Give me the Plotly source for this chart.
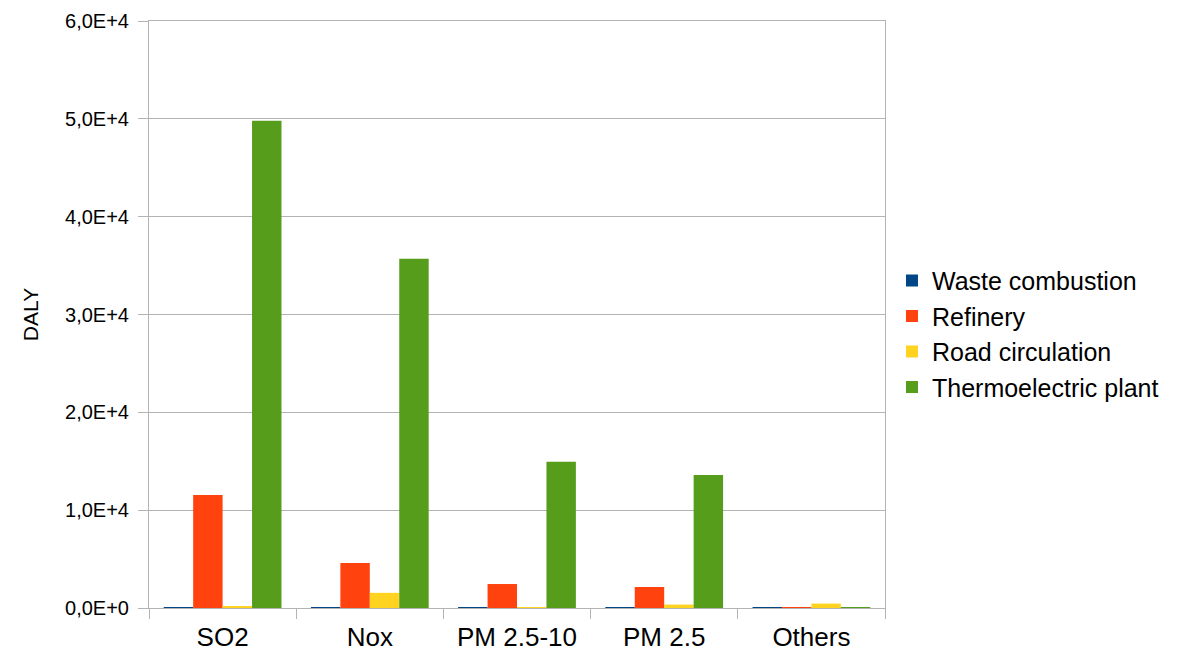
import plotly.graph_objects as go

categories = ["SO2", "Nox", "PM 2.5-10", "PM 2.5", "Others"]
waste_combustion = [60, 50, 50, 50, 50]
refinery = [11550, 4600, 2450, 2150, 40]
road_circulation = [150, 1550, 20, 350, 450]
thermoelectric_plant = [49800, 35700, 14950, 13600, 100]

series_names = ["Waste combustion", "Refinery", "Road circulation", "Thermoelectric plant"]
series_values = [waste_combustion, refinery, road_circulation, thermoelectric_plant]
series_colors = ["#004586", "#ff420e", "#ffd320", "#579d1c"]

y_tick_vals = [0, 10000, 20000, 30000, 40000, 50000, 60000]
y_tick_text = ["0,0E+0", "1,0E+4", "2,0E+4", "3,0E+4", "4,0E+4", "5,0E+4", "6,0E+4"]

fig = go.Figure()
for name, vals, col in zip(series_names, series_values, series_colors):
    fig.add_trace(go.Bar(x=categories, y=vals, name=name, marker_color=col,
                         marker_line_width=0))

font_family = "Liberation Sans, Arial, sans-serif"
fig.update_layout(
    width=1184, height=655,
    margin=dict(l=141, r=307, t=13, b=55, autoexpand=False),
    plot_bgcolor="white", paper_bgcolor="white",
    barmode="group", bargap=0.2, bargroupgap=0,
    font=dict(family=font_family, color="black"),
    showlegend=True,
    legend=dict(x=1.0095, y=0.467, xanchor="left", yanchor="middle",
                font=dict(size=25, family=font_family), tracegroupgap=0,
                itemwidth=30, bgcolor="rgba(0,0,0,0)"),
)
fig.update_xaxes(
    automargin=False,
    showline=True, linecolor="#b3b3b3", linewidth=1, mirror=True,
    ticks="outside", tickson="boundaries", ticklen=10, tickcolor="#b3b3b3",
    tickfont=dict(size=26, family=font_family), showgrid=False,
    ticklabelstandoff=6,
)
fig.update_yaxes(
    automargin=False,
    range=[0, 60000], tickvals=y_tick_vals, ticktext=y_tick_text,
    showline=True, linecolor="#b3b3b3", linewidth=1, mirror=True,
    ticks="outside", ticklen=10, tickcolor="#b3b3b3",
    showgrid=True, gridcolor="#b3b3b3", gridwidth=1, zeroline=False,
    tickfont=dict(size=20, family=font_family),
    ticklabelstandoff=5,
    title=dict(text="DALY", font=dict(size=21, family=font_family), standoff=20),
)
fig.write_html("out.html")
